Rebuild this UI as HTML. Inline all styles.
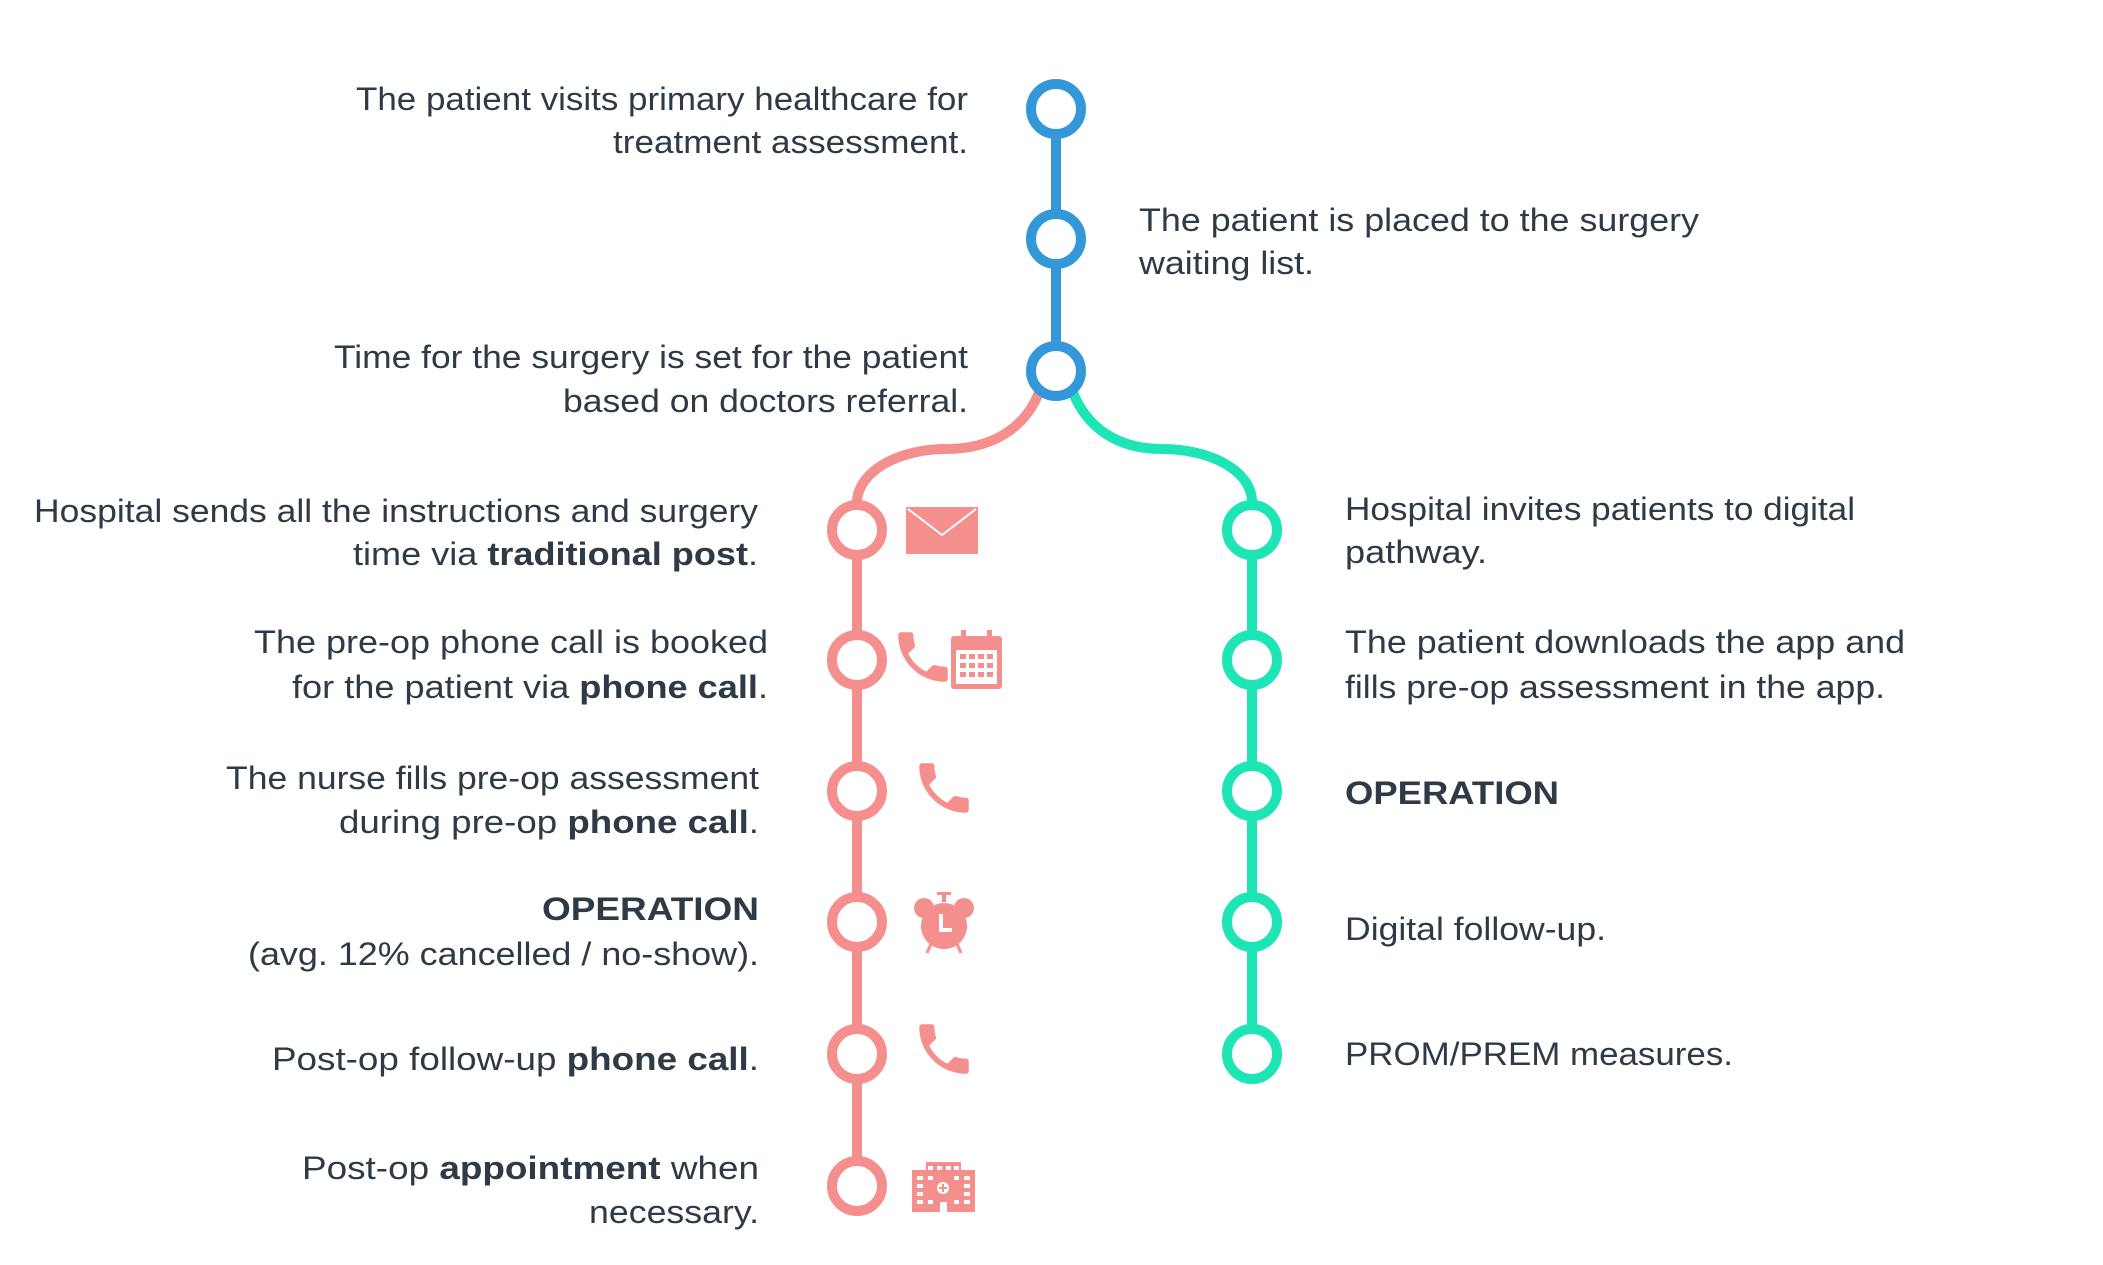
<!DOCTYPE html>
<html><head><meta charset="utf-8"><style>
html,body{margin:0;padding:0;background:#fff;}
svg{display:block;}
text{font-family:"Liberation Sans",Arial,sans-serif;font-size:32px;fill:#2e3a46;}
.b{font-weight:bold;}
</style></head><body>
<svg width="2103" height="1265" viewBox="0 0 2103 1265" xmlns="http://www.w3.org/2000/svg">
<defs>
<path id="ph" d="M6.62 10.79c1.44 2.830 3.76 5.14 6.59 6.59l2.2-2.2c.27-.27.67-.36 1.02-.24 1.12.37 2.330.57 3.57.57.55 0 1 .45 1 1V20c0 .55-.45 1-1 1-9.39 0-17-7.61-17-17 0-.55.45-1 1-1h3.5c.55 0 1 .45 1 1 0 1.25.2 2.45.57 3.570.11.35.03.74-.25 1.020l-2.2 2.2z"/>
</defs>
<line x1="1056" y1="109" x2="1056" y2="371" stroke="#3498d8" stroke-width="10"/>
<path d="M1040 390 C1025 430 990 449 946 449 C900 449 860 470 857 500 L857 1186" fill="none" stroke="#f58f8d" stroke-width="10"/>
<path d="M1072 390 C1087 430 1120 449 1162 449 C1210 449 1250 470 1252 500 L1252 1054" fill="none" stroke="#1de5b5" stroke-width="10"/>
<g fill="#fff" stroke-width="10">
<circle cx="1056" cy="109" r="25" stroke="#3498d8"/>
<circle cx="1056" cy="239" r="25" stroke="#3498d8"/>
<circle cx="1056" cy="371" r="25" stroke="#3498d8"/>
<g stroke="#f58f8d">
<circle cx="857" cy="530" r="25"/><circle cx="857" cy="660" r="25"/><circle cx="857" cy="791" r="25"/><circle cx="857" cy="922" r="25"/><circle cx="857" cy="1054" r="25"/><circle cx="857" cy="1186" r="25"/>
</g>
<g stroke="#1de5b5">
<circle cx="1252" cy="530" r="25"/><circle cx="1252" cy="660" r="25"/><circle cx="1252" cy="791" r="25"/><circle cx="1252" cy="922" r="25"/><circle cx="1252" cy="1054" r="25"/>
</g>
</g>
<g fill="#f58f8d">
<rect x="906" y="507" width="72" height="47"/>
<polyline points="908,509 942,535 976,509" fill="none" stroke="#fff" stroke-width="2"/>
<use href="#ph" transform="translate(890,624) scale(2.75)"/>
<g transform="translate(951,630)">
<rect x="0" y="6" width="51" height="53" rx="3"/>
<rect x="5" y="20" width="41" height="34" fill="#fff"/>
<rect x="10" y="0" width="5" height="10"/><rect x="36" y="0" width="5" height="10"/>
<rect x="9" y="24" width="6" height="5"/><rect x="18" y="24" width="6" height="5"/><rect x="27" y="24" width="6" height="5"/><rect x="36" y="24" width="6" height="5"/>
<rect x="9" y="33" width="6" height="5"/><rect x="18" y="33" width="6" height="5"/><rect x="27" y="33" width="6" height="5"/><rect x="36" y="33" width="6" height="5"/>
<rect x="9" y="42" width="6" height="5"/><rect x="18" y="42" width="6" height="5"/><rect x="27" y="42" width="6" height="5"/><rect x="36" y="42" width="6" height="5"/>
</g>
<use href="#ph" transform="translate(911,755) scale(2.75)"/>
<use href="#ph" transform="translate(911,1016) scale(2.75)"/>
<g transform="translate(944,926)">
<circle cx="0" cy="0" r="23"/>
<circle cx="-20" cy="-18" r="10"/><circle cx="20" cy="-18" r="10"/>
<rect x="-2" y="-32" width="4" height="8"/><rect x="-7" y="-34" width="14" height="3"/>
<line x1="-13" y1="18" x2="-17" y2="27" stroke="#f58f8d" stroke-width="3"/>
<line x1="13" y1="18" x2="17" y2="27" stroke="#f58f8d" stroke-width="3"/>
<polyline points="-3,-12 -3,4 8,4" fill="none" stroke="#fff" stroke-width="4"/>
</g>
<g transform="translate(912,1162)">
<rect x="0" y="8" width="63" height="42"/>
<rect x="14" y="0" width="35" height="10"/>
<g fill="#fff">
<rect x="5" y="14" width="6" height="4"/><rect x="5" y="22" width="6" height="4"/><rect x="5" y="30" width="6" height="4"/><rect x="5" y="38" width="6" height="4"/>
<rect x="52" y="14" width="6" height="4"/><rect x="52" y="22" width="6" height="4"/><rect x="52" y="30" width="6" height="4"/><rect x="52" y="38" width="6" height="4"/>
<rect x="16" y="4" width="5" height="4"/><rect x="25" y="4" width="5" height="4"/><rect x="34" y="4" width="5" height="4"/><rect x="42" y="4" width="5" height="4"/>
<rect x="16" y="14" width="5" height="4"/><rect x="42" y="14" width="5" height="4"/>
<rect x="16" y="38" width="5" height="4"/><rect x="42" y="38" width="5" height="4"/>
<circle cx="31" cy="26" r="6"/>
<rect x="28" y="40" width="7" height="10"/>
</g>
<path d="M31 22v8M27 26h8" stroke="#f58f8d" stroke-width="2"/>
</g>
</g>
<g text-anchor="end">
<text x="968" y="110" textLength="612" lengthAdjust="spacingAndGlyphs">The patient visits primary healthcare for</text>
<text x="968" y="153" textLength="355" lengthAdjust="spacingAndGlyphs">treatment assessment.</text>
<text x="968" y="368" textLength="634" lengthAdjust="spacingAndGlyphs">Time for the surgery is set for the patient</text>
<text x="968" y="412" textLength="405" lengthAdjust="spacingAndGlyphs">based on doctors referral.</text>
<text x="758" y="522" textLength="724" lengthAdjust="spacingAndGlyphs">Hospital sends all the instructions and surgery</text>
<text x="758" y="565" textLength="405" lengthAdjust="spacingAndGlyphs">time via <tspan class="b">traditional post</tspan>.</text>
<text x="768" y="653" textLength="514" lengthAdjust="spacingAndGlyphs">The pre-op phone call is booked</text>
<text x="768" y="698" textLength="476" lengthAdjust="spacingAndGlyphs">for the patient via <tspan class="b">phone call</tspan>.</text>
<text x="759" y="789" textLength="533" lengthAdjust="spacingAndGlyphs">The nurse fills pre-op assessment</text>
<text x="759" y="833" textLength="420" lengthAdjust="spacingAndGlyphs">during pre-op <tspan class="b">phone call</tspan>.</text>
<text x="759" y="920" class="b" textLength="217" lengthAdjust="spacingAndGlyphs">OPERATION</text>
<text x="759" y="965" textLength="511" lengthAdjust="spacingAndGlyphs">(avg. 12% cancelled / no-show).</text>
<text x="759" y="1070" textLength="487" lengthAdjust="spacingAndGlyphs">Post-op follow-up <tspan class="b">phone call</tspan>.</text>
<text x="759" y="1179" textLength="457" lengthAdjust="spacingAndGlyphs">Post-op <tspan class="b">appointment</tspan> when</text>
<text x="759" y="1223" textLength="170" lengthAdjust="spacingAndGlyphs">necessary.</text>
</g>
<text x="1139" y="231" textLength="560" lengthAdjust="spacingAndGlyphs">The patient is placed to the surgery</text>
<text x="1139" y="274" textLength="175" lengthAdjust="spacingAndGlyphs">waiting list.</text>
<text x="1345" y="520" textLength="510" lengthAdjust="spacingAndGlyphs">Hospital invites patients to digital</text>
<text x="1345" y="563" textLength="142" lengthAdjust="spacingAndGlyphs">pathway.</text>
<text x="1345" y="653" textLength="560" lengthAdjust="spacingAndGlyphs">The patient downloads the app and</text>
<text x="1345" y="698" textLength="540" lengthAdjust="spacingAndGlyphs">fills pre-op assessment in the app.</text>
<text x="1345" y="804" class="b" textLength="214" lengthAdjust="spacingAndGlyphs">OPERATION</text>
<text x="1345" y="940" textLength="261" lengthAdjust="spacingAndGlyphs">Digital follow-up.</text>
<text x="1345" y="1065" textLength="388" lengthAdjust="spacingAndGlyphs">PROM/PREM measures.</text>
</svg>
</body></html>
